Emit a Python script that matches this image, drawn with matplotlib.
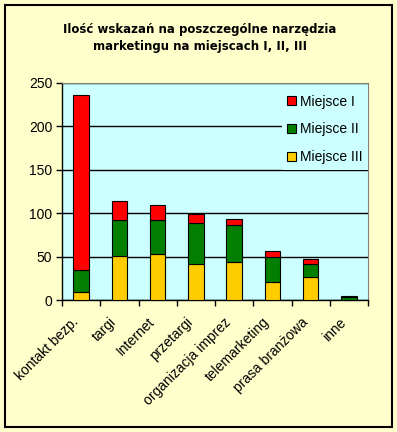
import matplotlib
matplotlib.use("Agg")
import matplotlib.pyplot as plt
from matplotlib.patches import Rectangle
from matplotlib.transforms import ScaledTranslation
import numpy as np

categories = ["kontakt bezp.", "targi", "Internet", "przetargi",
              "organizacja imprez", "telemarketing", "prasa branżowa", "inne"]
miejsce_III = [9, 51, 53, 42, 44, 21, 26, 0]
miejsce_II = [26, 41, 39, 47, 42, 29, 16, 4]
miejsce_I = [201, 22, 18, 10, 7, 6, 5, 1]
series_names = ["Miejsce I", "Miejsce II", "Miejsce III"]
yticks = [0, 50, 100, 150, 200, 250]
title = "Ilość wskazań na poszczególne narzędzia\nmarketingu na miejscach I, II, III"

W, H = 397, 432
fig = plt.figure(figsize=(W / 100, H / 100), dpi=100)
fig.patch.set_facecolor("#FFFFCC")
fig.patches.append(Rectangle((5 / W, 1 - 427 / H), 387 / W, 422 / H,
                             transform=fig.transFigure, fill=False,
                             edgecolor="black", linewidth=1.5, zorder=10))

ax = fig.add_axes([62 / W, 1 - 300 / H, 306 / W, 217 / H])
ax.set_facecolor("#CCFFFF")

x = np.arange(len(categories))
bw = 0.4
c3, c2, c1 = "#FFCC00", "#007F00", "#FF0000"
b3 = ax.bar(x, miejsce_III, bw, color=c3, edgecolor="black", linewidth=0.8, zorder=3)
b2 = ax.bar(x, miejsce_II, bw, bottom=miejsce_III, color=c2, edgecolor="black",
            linewidth=0.8, zorder=3)
bottom1 = np.array(miejsce_III) + np.array(miejsce_II)
b1 = ax.bar(x, miejsce_I, bw, bottom=bottom1, color=c1, edgecolor="black",
            linewidth=0.8, zorder=3)

ax.set_xlim(-0.5, len(categories) - 0.5)
ax.set_ylim(0, 250)
ax.set_yticks(yticks)
ax.set_yticklabels([str(v) for v in yticks], fontsize=10, family="Liberation Sans")
ax.yaxis.grid(True, color="black", linewidth=1, zorder=1)
ax.set_axisbelow(True)

ax.set_xticks(x)
ax.set_xticklabels(categories, rotation=45, ha="right", va="center",
                   rotation_mode="anchor", fontsize=10, family="Liberation Sans")
ax.tick_params(axis="x", which="major", length=0, pad=14.5)
off = ScaledTranslation(-5 / 100, 0, fig.dpi_scale_trans)
for lbl in ax.get_xticklabels():
    lbl.set_transform(lbl.get_transform() + off)
ax.set_xticks(np.arange(-0.5, len(categories), 1.0), minor=True)
ax.tick_params(axis="x", which="minor", length=4, direction="out", width=1)
ax.tick_params(axis="y", length=4, direction="out", width=1, pad=3)

for s in ["top", "right"]:
    ax.spines[s].set_color("#808080")
for s in ["left", "bottom"]:
    ax.spines[s].set_color("black")
    ax.spines[s].set_linewidth(1)

leg = ax.legend([b1, b2, b3], series_names, loc="upper right",
                bbox_to_anchor=(1.0, 1.0 - 6 / 217),
                prop={"family": "Liberation Sans", "size": 10},
                frameon=True, facecolor="#CCFFFF", edgecolor="none", framealpha=1,
                handlelength=0.6, handleheight=0.6, handletextpad=0.3,
                labelspacing=1.0, borderaxespad=0.0, fancybox=False)
leg.set_zorder(5)

fig.text(200 / W, 1 - 38 / H, title, ha="center", va="center",
         fontsize=8.5, fontweight="bold", family="DejaVu Sans", linespacing=1.35)

fig.savefig("out.png", dpi=100, facecolor=fig.get_facecolor())
